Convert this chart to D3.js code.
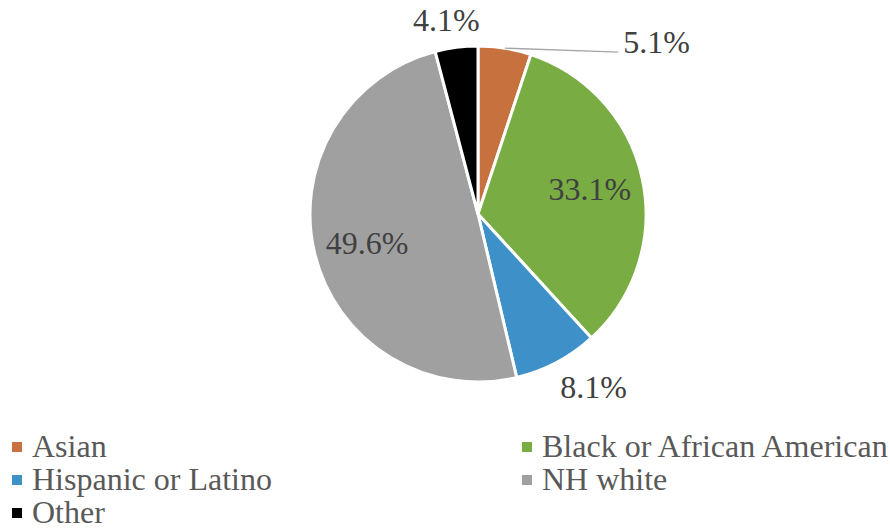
<!DOCTYPE html>
<html>
<head>
<meta charset="utf-8">
<script src="https://cdn.jsdelivr.net/npm/d3@7"></script>
<style>
  body { margin: 0; background: #fff; }
  #chart { position: relative; width: 890px; height: 529px; overflow: hidden; }
  #chart svg { position: absolute; left: 0; top: 0; }
  .txt { position: absolute; white-space: nowrap; font-family: "Liberation Serif", serif; font-size: 32px; line-height: 32px; }
</style>
</head>
<body>
<div id="chart"></div>
<script>
// Data
const categories = ["Asian", "Black or African American", "Hispanic or Latino", "NH white", "Other"];
const shares = [5.1, 33.1, 8.1, 49.6, 4.1];
const colors = ["#C7713F", "#79AC43", "#3E90C9", "#A0A0A0", "#000000"];

const width = 890;
const height = 529;
const cx = 478, cy = 214, radius = 168;
const fontSize = 32;
const baseOff = 26.8; // line box top -> baseline for Liberation Serif at 32px

const chart = d3.select('#chart');
const svg = chart.append('svg')
    .attr('width', width)
    .attr('height', height);

const data = categories.map((c, i) => ({ name: c, value: shares[i], color: colors[i] }));

const pie = d3.pie().sort(null).value(d => d.value);
const arcs = pie(data);
const arc = d3.arc().innerRadius(0).outerRadius(radius);

const g = svg.append('g').attr('transform', `translate(${cx},${cy})`);

g.selectAll('path.slice')
    .data(arcs)
    .enter()
    .append('path')
    .attr('class', 'slice')
    .attr('d', arc)
    .attr('fill', d => d.data.color)
    .attr('stroke', '#ffffff')
    .attr('stroke-width', 3);

// data labels as positioned text
const labels = chart.selectAll('div.lbl')
    .data(arcs)
    .enter()
    .append('div')
    .attr('class', 'txt lbl')
    .style('color', '#404040')
    .text(d => d.data.value.toFixed(1) + '%');

labels.each(function(d, i) {
    const el = d3.select(this);
    const a = (d.startAngle + d.endAngle) / 2;
    const sin = Math.sin(a), cos = -Math.cos(a);
    if (i === 0) {
        // thin first slice: label pulled out to the right with a leader line
        const sx = sin * radius, sy = cos * radius;
        const ex = radius * 0.835, ey = sy + 4;
        g.append('line')
            .attr('x1', sx).attr('y1', sy)
            .attr('x2', ex).attr('y2', ey)
            .attr('stroke', '#A6A6A6')
            .attr('stroke-width', 1.3);
        el.style('left', (cx + ex + 5) + 'px')
          .style('top', (cy + ey + 1 - baseOff) + 'px');
        return;
    }
    let x, y;
    if (d.data.value > 20) {
        x = sin * radius * 0.68;
        y = cos * radius * 0.7;
    } else {
        // outside label, box pushed away from the edge
        const w = this.offsetWidth;
        const rr = radius + 12;
        x = sin * rr + Math.sign(sin) * (w / 2) * Math.min(1, Math.abs(sin) * 2);
        y = cos * rr + cos * fontSize / 2;
    }
    el.style('left', (cx + x) + 'px')
      .style('top', (cy + y) + 'px')
      .style('transform', 'translate(-50%, -50%)');
});

// Legend, two columns
const colX = [12, 522];
const rowY = [457, 490, 523];

svg.selectAll('rect.key')
    .data(data)
    .enter()
    .append('rect')
    .attr('class', 'key')
    .attr('x', (d, i) => colX[i % 2])
    .attr('y', (d, i) => rowY[Math.floor(i / 2)] - 15)
    .attr('width', 10).attr('height', 10)
    .attr('fill', d => d.color);

chart.selectAll('div.leg')
    .data(data)
    .enter()
    .append('div')
    .attr('class', 'txt leg')
    .style('color', '#595959')
    .style('left', (d, i) => (colX[i % 2] + 20) + 'px')
    .style('top', (d, i) => (rowY[Math.floor(i / 2)] - baseOff) + 'px')
    .text(d => d.name);
</script>
</body>
</html>
